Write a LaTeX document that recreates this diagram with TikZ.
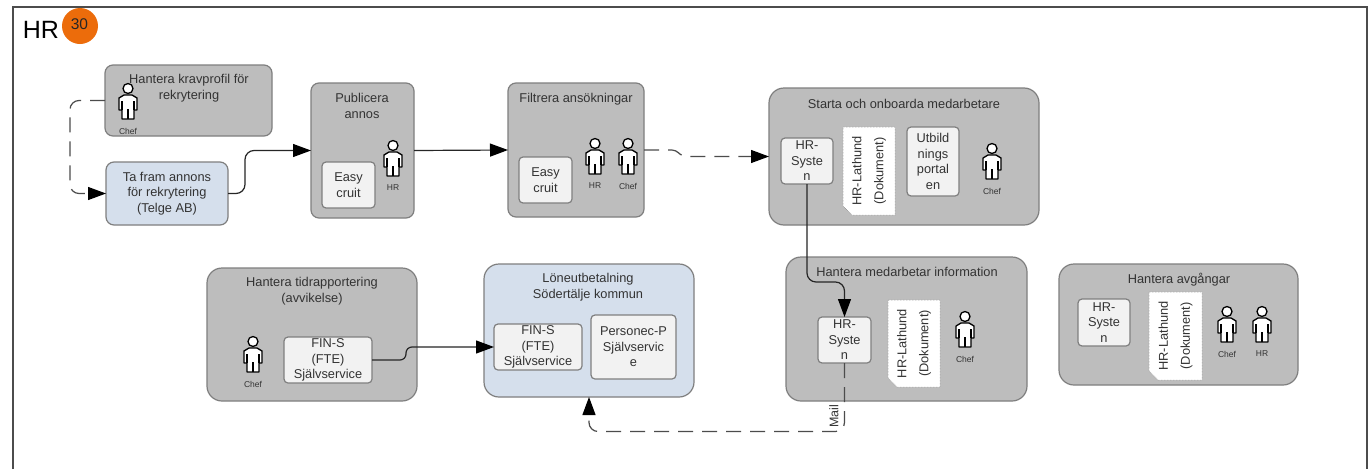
\documentclass[tikz,border=0pt]{standalone}
\usepackage{fontspec}
\setmainfont{Liberation Sans}
\usetikzlibrary{arrows.meta}
\definecolor{grayfill}{HTML}{BDBDBD}
\definecolor{edgegray}{HTML}{7F7F7F}
\definecolor{bluefill}{HTML}{D5DFEC}
\definecolor{innerfill}{HTML}{F2F2F2}
\definecolor{txt}{HTML}{333333}
\definecolor{orangebadge}{HTML}{EC6C0B}
\tikzset{
  x=1pt,y=-1pt,
  base/.style={draw=edgegray,line width=1.2pt,align=center,text=txt,inner sep=0pt,outer sep=0pt,
    font=\fontsize{12.8}{15.5}\selectfont},
  graybox/.style={base,fill=grayfill,rounded corners=8pt},
  graybig/.style={base,fill=grayfill,rounded corners=15pt},
  bluebox/.style={base,fill=bluefill,rounded corners=8pt},
  bluebig/.style={base,fill=bluefill,rounded corners=15pt},
  innerbox/.style={base,fill=innerfill,rounded corners=4pt},
  titletext/.style={align=center,text=txt,inner sep=0pt,font=\fontsize{12.8}{15.5}\selectfont},
  roletext/.style={text=txt,inner sep=0pt,font=\fontsize{8.5}{9}\selectfont},
  doctext/.style={align=center,text=txt,inner sep=0pt,rotate=90,font=\fontsize{12.8}{22}\selectfont},
  docshape/.style={fill=white,draw=edgegray,densely dotted,line width=.5pt},
  conn/.style={draw=black!85,line width=1.2pt,rounded corners=9pt,
    -{Triangle[length=18pt,width=13pt,color=black,fill=black]}},
  dashconn/.style={conn,draw=black!70,dash pattern=on 15pt off 9pt},
  person/.pic={
    \draw[fill=white,draw=black,line width=1.3pt] (0,5.5) circle[radius=5];
    \draw[fill=white,draw=black,line width=1.3pt,line join=round]
      (-4,12) -- (4,12) -- (9,15) -- (9,27) -- (6,27) -- (6,36) -- (-6,36) -- (-6,27) -- (-9,27) -- (-9,15) -- cycle;
    \draw[black,line width=1.1pt] (-6,18) -- (-6,27) (6,18) -- (6,27) (0,26) -- (0,36);
  }
}
\newcommand{\bx}[7]{\node[#2,minimum width={(#5-#3)*1pt},minimum height={(#6-#4)*1pt}] (#1) at ({(#3+#5)/2},{(#4+#6)/2}) {#7};}
\newcommand{\docsheet}[5]{%
  \path[docshape] (#2,#3) -- (#4,#3) -- (#4,#5) -- ({#2+9},#5) -- (#2,{#5-9}) -- cycle;
  \node[doctext] (#1) at ({(#2+#4)/2},{(#3+#5)/2}) {HR-Lathund\\(Dokument)};}
\newcommand{\role}[4]{\pic at (#2,#3) {person}; \node[roletext] (#1) at (#2,{#3+48}) {#4};}
\begin{document}
\begin{tikzpicture}
\useasboundingbox (0,0) rectangle (1369,469);
\fill[white] (0,0) rectangle (1369,469);
\draw[draw=black!70,line width=2pt] (13,469) -- (13,7) -- (1367,7) -- (1367,469);
\node[text=black,inner sep=0pt,font=\fontsize{25}{25}\selectfont] (hrtitle) at (41,30) {HR};
\node[circle,fill=orangebadge,minimum size=36pt,inner sep=0pt] (badge) at (80,26) {};
\node[text=black!85,inner sep=0pt,font=\fontsize{15.5}{15.5}\selectfont] (badgetext) at (79.5,24) {30};

% Top row
\bx{krav}{graybox}{105}{65}{272}{136}{}
\node[titletext] (kravt) at (189,88) {Hantera kravprofil för\\rekrytering};
\role{kravr}{128}{83}{Chef}
\bx{tafram}{bluebox}{106}{162}{228}{225}{Ta fram annons\\för rekrytering\\(Telge AB)}

\bx{pub}{graybox}{311}{83}{414}{218}{}
\node[titletext] (pubt) at (362,106) {Publicera\\annos};
\bx{pubeasy}{innerbox}{322}{162}{375}{208}{Easy\\cruit}
\role{pubr}{393}{140}{HR}

\bx{fil}{graybox}{508}{83}{644}{217}{}
\node[titletext] (filt) at (576,99) {Filtrera ansökningar};
\bx{fileasy}{innerbox}{519}{157}{572}{203}{Easy\\cruit}
\role{filr1}{595}{138}{HR}
\role{filr2}{628}{138}{Chef}

\bx{sta}{graybig}{769}{88}{1039}{225}{}
\node[titletext] (stat) at (904,104) {Starta och onboarda medarbetare};
\bx{stahr}{innerbox}{781}{138}{833}{184}{HR-\\Syste\\n}
\docsheet{stadoc}{843}{127}{895}{215}
\bx{stautb}{innerbox}{907}{127}{959}{196}{Utbild\\nings\\portal\\en}
\role{star}{992}{143}{Chef}

% Bottom row
\bx{tid}{graybig}{207}{268}{417}{401}{}
\node[titletext] (tidt) at (312,291) {Hantera tidrapportering\\(avvikelse)};
\role{tidr}{253}{336}{Chef}
\bx{tidfin}{innerbox}{284}{337}{372}{383}{FIN-S\\(FTE)\\Självservice}

\bx{lon}{bluebig}{484}{264}{694}{397}{}
\node[titletext] (lont) at (588,287) {Löneutbetalning\\Södertälje kommun};
\bx{lonfin}{innerbox}{494}{324}{582}{370}{FIN-S\\(FTE)\\Självservice}
\bx{lonper}{innerbox}{591}{315}{676}{379}{Personec-P\\Självservic\\e}

\bx{med}{graybig}{786}{257}{1027}{401}{}
\node[titletext] (medt) at (907,272) {Hantera medarbetar information};
\bx{medhr}{innerbox}{818}{317}{871}{363}{HR-\\Syste\\n}
\docsheet{meddoc}{888}{300}{940}{387}
\role{medr}{965}{311}{Chef}

\bx{avg}{graybig}{1059}{264}{1298}{385}{}
\node[titletext] (avgt) at (1179,280) {Hantera avgångar};
\bx{avghr}{innerbox}{1078}{299}{1130}{346}{HR-\\Syste\\n}
\docsheet{avgdoc}{1149}{292}{1202}{380}
\role{avgr1}{1227}{306}{Chef}
\role{avgr2}{1262}{306}{HR}

% Connectors
\draw[dashconn] (krav.west) -- (70,100.5) -- (70,193.5) -- (tafram.west);
\draw[conn] (tafram.east) -- (245,193.5) -- (245,150.5) -- (pub.west);
\draw[conn] (pub.east) -- (fil.west);
\draw[dashconn,rounded corners=4pt] (fil.east) -- (676,150) -- (682,156.5) -- (sta.west);
\draw[conn] (stahr.south) -- (807,282) -- (844.5,282) -- (medhr.north);
\draw[conn,rounded corners=6pt] (tidfin.east) -- (406,360) -- (406,347) -- (lonfin.west);
\draw[dashconn] (medhr.south) -- (844.5,431.5) -- (589,431.5) -- (lon.south);
\node[text=txt,inner sep=0pt,rotate=90,font=\fontsize{12.5}{12.5}\selectfont] (mail) at (834,416) {Mail};
\end{tikzpicture}
\end{document}
